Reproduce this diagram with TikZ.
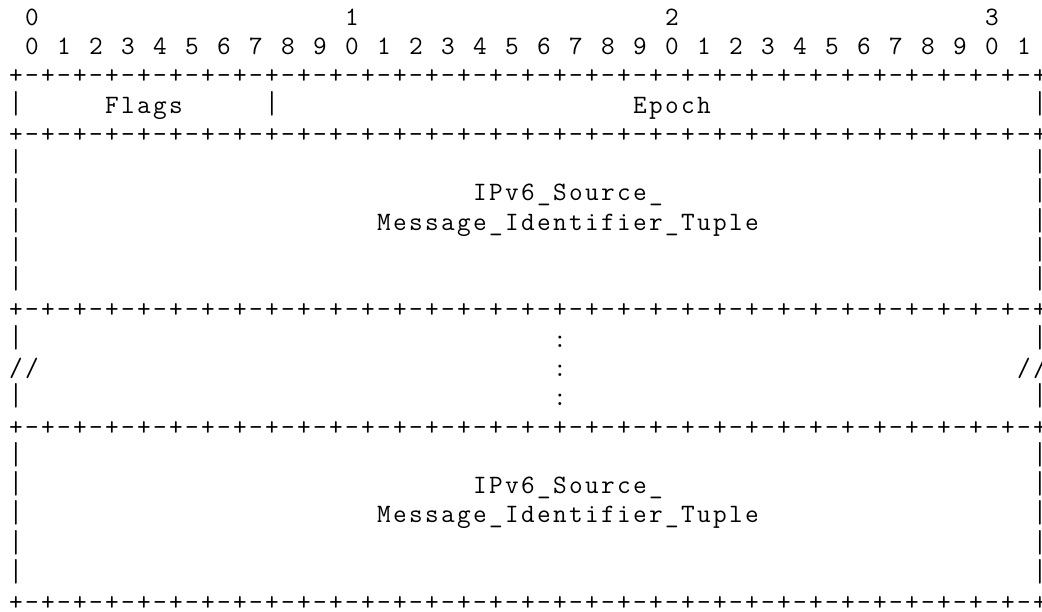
\documentclass[tikz,border=0pt]{standalone}
\usepackage{fontspec}
\usepackage{graphicx}
% each character sits in a fixed 16pt cell (Courier-like grid)
\makeatletter
\newcommand\cells[1]{\cells@i#1\relax}
\def\cells@i#1{\ifx#1\relax\else\makebox[16pt][c]{#1}\expandafter\cells@i\fi}
\makeatother
\newcommand\vbar{\makebox[16pt][c]{\scalebox{1}[1.2]{|}}}
\tikzset{
  ch/.style={anchor=base west, inner sep=0pt, outer sep=0pt,
    font=\ttfamily\fontsize{26.5pt}{29.28pt}\selectfont, text=black},
}
\newcommand\sepstr{\cells{+-+-+-+-+-+-+-+-+-+-+-+-+-+-+-+-+-+-+-+-+-+-+-+-+-+-+-+-+-+-+-+-+}}
\begin{document}
\begin{tikzpicture}[x=16pt,y=-29.28pt]
\path[use as bounding box] (0pt,0pt) rectangle (1042pt,-612pt);
\begin{scope}[shift={(8pt,-25.2pt)}]
  % bit ruler
  \node[ch] (t0) at (1,0) {\cells{0}};
  \node[ch] (t1) at (21,0) {\cells{1}};
  \node[ch] (t2) at (41,0) {\cells{2}};
  \node[ch] (t3) at (61,0) {\cells{3}};
  \node[ch] (bits) at (1,1) {\cells{0~1~2~3~4~5~6~7~8~9~0~1~2~3~4~5~6~7~8~9~0~1~2~3~4~5~6~7~8~9~0~1}};
  % separator rows
  \foreach \r/\n in {2/1,4/2,10/3,14/4,20/5}
    \node[ch] (sep\n) at (0,\r) {\sepstr};
  % side bars
  \foreach \r in {3,5,6,7,8,9,11,13,15,16,17,18,19} {
    \node[ch] (lb\r) at (0,\r) {\vbar};
    \node[ch] (rb\r) at (64,\r) {\vbar};
  }
  % first word
  \node[ch] (flags) at (6,3) {\cells{Flags}};
  \node[ch] (mid3) at (16,3) {\vbar};
  \node[ch] (epoch) at (39,3) {\cells{Epoch}};
  % first tuple
  \node[ch] (srcA) at (29,6) {\cells{IPv6\_Source\_}};
  \node[ch] (msgA) at (23,7) {\cells{Message\_Identifier\_Tuple}};
  % ellipsis rows
  \node[ch] (dotA) at (34,11) {\cells{:}};
  \node[ch] (slL) at (0,12) {\cells{//}};
  \node[ch] (dotB) at (34,12) {\cells{:}};
  \node[ch] (slR) at (63,12) {\cells{//}};
  \node[ch] (dotC) at (34,13) {\cells{:}};
  % last tuple
  \node[ch] (srcB) at (29,16) {\cells{IPv6\_Source\_}};
  \node[ch] (msgB) at (23,17) {\cells{Message\_Identifier\_Tuple}};
\end{scope}
\end{tikzpicture}
\end{document}
